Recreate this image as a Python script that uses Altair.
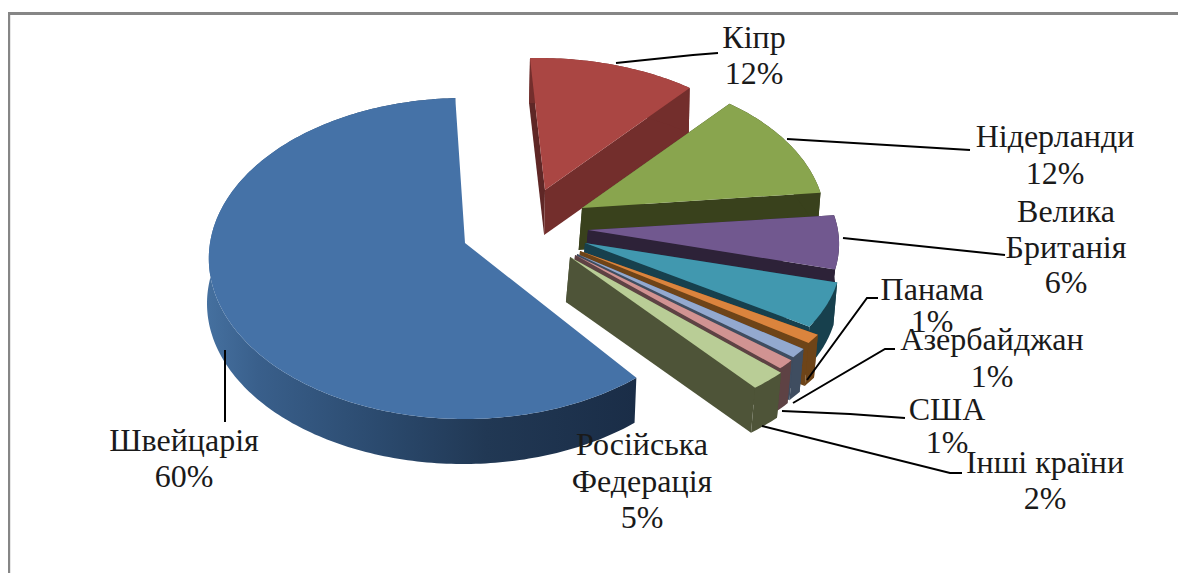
import math
import altair as alt

# ---- chart values -------------------------------------------------------
countries = ["Швейцарія", "Кіпр", "Нідерланди", "Велика Британія", "Російська Федерація",
             "Панама", "Азербайджан", "США", "Інші країни"]
shares = [60, 12, 12, 6, 5, 1, 1, 1, 2]
top_colors = ["#4572A7", "#AA4643", "#89A54E", "#71588F", "#4198AF",
              "#DB843D", "#93A9CF", "#D19392", "#B9CD96"]
wall_colors = ["#24405f", "#732E2C", "#39411C", "#2D2238", "#17404D",
               "#6E4418", "#3F4D60", "#5E4244", "#4E5438"]
cut_colors = ["#1a2d47", "#5F2726", "#39411C", "#2D2238", "#17404D",
              "#6E4418", "#3F4D60", "#5E4244", "#4E5438"]

# ---- layout of the exploded perspective pie (page pixels) ----------------
START_ANGLE = 141.6
RX, RY, PERSPECTIVE = 255, 159, 0.0966
apex_x = [465, 545, 582, 588, 585, 580, 577, 575, 570]
apex_y = [243, 190, 208, 230, 243, 251, 254, 255, 257]
scale_x = [1, 0.96, 0.95, 0.98, 1.0, 1.06, 1.05, 1.05, 1.08]
scale_y = [1, 0.91, 0.93, 0.90, 0.90, 0.90, 0.93, 0.95, 0.97]
shear = [0, 0.043, 0, 0, 0, 0, 0, 0, 0]
depth = [45, 45, 42, 43, 43, 43, 43, 43, 45]
slant = [-0.04, -0.02, -0.08, -0.09, -0.09, -0.09, -0.09, -0.09, -0.09]
paint_order = [1, 2, 3, 4, 5, 6, 7, 8, 0]

label_text = ["Швейцарія", "60%", "Кіпр", "12%", "Нідерланди", "12%", "Велика", "Британія", "6%",
              "Російська", "Федерація", "5%", "Панама", "1%", "Азербайджан", "1%", "США", "1%",
              "Інші країни", "2%"]
label_x = [184, 184, 754, 754, 1055, 1055, 1066, 1066, 1066, 642, 642, 642,
           932, 932, 992, 992, 947, 947, 1045, 1045]
label_y = [441, 477, 38, 74, 137, 174, 212, 248, 283, 445, 482, 518,
           290, 322, 340, 377, 410, 443, 463, 499]
leaders = [
    [(616, 63), (693, 55), (718, 53)],
    [(787, 139), (970, 150)],
    [(843, 238), (1005, 255)],
    [(807, 380), (867, 298), (878, 298)],
    [(793, 403), (885, 349), (895, 349)],
    [(782, 411), (850, 414), (905, 418)],
    [(762, 426), (950, 473), (962, 473)],
    [(225, 350), (225, 422)],
]
frame = [[(8.7, 581), (8.7, 13.5), (1186, 13.5)]]
OX, OY = 8, 8


def px(p):
    return [p[0] - OX, p[1] - OY]


def point(i, deg):
    t = math.radians(deg)
    u, v = math.sin(t), -math.cos(t)
    s = 1 / (1 - PERSPECTIVE * v)
    dy = RY * v * s * scale_y[i]
    dx = RX * u * s * scale_x[i] + shear[i] * dy
    return (apex_x[i] + dx, apex_y[i] + dy)


def polygon(points, color):
    ring = [px(p) for p in points]
    ring.append(ring[0])
    return {"type": "Feature", "properties": {"color": color},
            "geometry": {"type": "Polygon", "coordinates": [ring]}}


def line(points):
    return {"type": "Feature", "properties": {},
            "geometry": {"type": "LineString", "coordinates": [px(p) for p in points]}}


def down(i, p):
    return (p[0] + slant[i] * depth[i], p[1] + depth[i])


# angular extent of each slice, from the shares
total = sum(shares)
spans = []
a = START_ANGLE
for v in shares:
    b = a + 360 * v / total
    spans.append((a, b))
    a = b

arcs = []
for i, (a0, a1) in enumerate(spans):
    n = max(3, int(a1 - a0) + 1)
    arcs.append([point(i, a0 + (a1 - a0) * k / n) for k in range(n + 1)])

faces = []
for i in paint_order:
    if i == 0:
        continue
    arc = arcs[i]
    apex = (apex_x[i], apex_y[i])
    faces.append(polygon([apex, arc[0], down(i, arc[0]), down(i, apex)], cut_colors[i]))
    faces.append(polygon([apex, arc[-1], down(i, arc[-1]), down(i, apex)], wall_colors[i]))
    faces.append(polygon(arc + [down(i, p) for p in reversed(arc)], wall_colors[i]))
    faces.append(polygon([apex] + arc, top_colors[i]))

proj = alt.Projection(type="identity", scale=1, translate=[0, 0])


def geo(features):
    return alt.Chart(alt.Data(values=features, format=alt.DataFormat(type="json")))


slices = geo(faces).mark_geoshape(strokeWidth=0).encode(
    fill=alt.Fill("properties.color:N", scale=None)
).project(**proj.to_dict())

blue_arc = arcs[0]
blue_wall = geo([polygon(blue_arc + [down(0, p) for p in reversed(blue_arc)], wall_colors[0])]).mark_geoshape(
    strokeWidth=0,
    fill=alt.Gradient(gradient="linear", x1=0, x2=1, y1=0, y2=0, stops=[
        alt.GradientStop(offset=0, color="#45709f"),
        alt.GradientStop(offset=0.12, color="#395f8b"),
        alt.GradientStop(offset=0.4, color="#2b4a6e"),
        alt.GradientStop(offset=0.65, color="#213854"),
        alt.GradientStop(offset=1, color="#1a2d47"),
    ]),
).project(**proj.to_dict())
blue_top = geo([polygon([(apex_x[0], apex_y[0])] + blue_arc, top_colors[0])]).mark_geoshape(
    strokeWidth=0, fill=top_colors[0]
).project(**proj.to_dict())

leader_lines = geo([line(p) for p in leaders]).mark_geoshape(
    filled=False, stroke="#000000", strokeWidth=2
).project(**proj.to_dict())
frame_lines = geo([line(p) for p in frame]).mark_geoshape(
    filled=False, stroke="#868686", strokeWidth=3
).project(**proj.to_dict())

labels = alt.Chart(alt.Data(values=[
    {"t": t, "x": x - OX, "y": y - OY} for t, x, y in zip(label_text, label_x, label_y)
])).mark_text(font="Liberation Serif", fontSize=32, color="#1a1a1a", baseline="middle", align="center").encode(
    x=alt.X("x:Q", scale=None, axis=None),
    y=alt.Y("y:Q", scale=None, axis=None),
    text="t:N",
)

chart = alt.layer(frame_lines, slices, blue_wall, blue_top, leader_lines, labels).properties(
    width=1170, height=565, padding=0, autosize=alt.AutoSizeParams(type="none"), background="#ffffff"
).configure_view(stroke=None)

chart.save("out.html", embed_options={"renderer": "svg", "actions": False})
